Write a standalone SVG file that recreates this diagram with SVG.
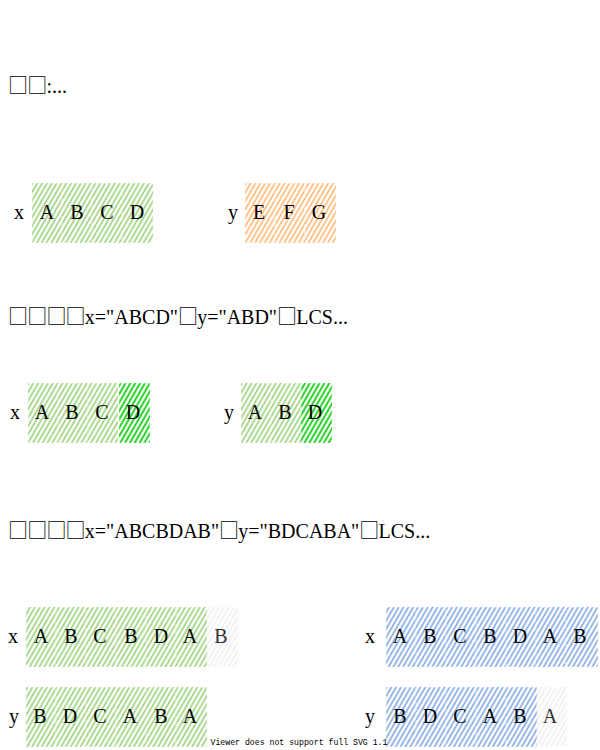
<svg xmlns="http://www.w3.org/2000/svg" width="600" height="750" viewBox="0 0 600 750">
<defs>
<pattern id="hg" patternUnits="userSpaceOnUse" width="4.2" height="10" patternTransform="rotate(30)"><line x1="2.1" y1="0" x2="2.1" y2="10" stroke="#97D077" stroke-width="1.6"/></pattern>
<pattern id="hd" patternUnits="userSpaceOnUse" width="4.2" height="10" patternTransform="rotate(30)"><line x1="2.1" y1="0" x2="2.1" y2="10" stroke="#00CC00" stroke-width="1.7"/></pattern>
<pattern id="ho" patternUnits="userSpaceOnUse" width="4.2" height="10" patternTransform="rotate(30)"><line x1="2.1" y1="0" x2="2.1" y2="10" stroke="#FFB570" stroke-width="1.6"/></pattern>
<pattern id="hb" patternUnits="userSpaceOnUse" width="4.2" height="10" patternTransform="rotate(30)"><line x1="2.1" y1="0" x2="2.1" y2="10" stroke="#7EA6E0" stroke-width="1.6"/></pattern>
<pattern id="hx" patternUnits="userSpaceOnUse" width="4.2" height="10" patternTransform="rotate(30)"><line x1="2.1" y1="0" x2="2.1" y2="10" stroke="#EEEEEE" stroke-width="1.6"/></pattern>
</defs>
<style>
text{font-family:"Liberation Serif","Noto Sans CJK SC",serif;font-size:20px;fill:#000}
.c{text-anchor:middle}
.t{font-family:"Noto Sans CJK SC",sans-serif;letter-spacing:-0.8px}
.cell{stroke:#ffffff;stroke-opacity:0.6;stroke-width:1;stroke-dasharray:3 3}
.g{fill:url(#hg)}.d{fill:url(#hd)}.o{fill:url(#ho)}.b{fill:url(#hb)}.x{fill:url(#hx)}
.grey{fill:#333}
.note{font-family:"Liberation Mono",monospace;font-size:8.2px;text-anchor:middle}
</style>
<g id="title1"><text x="8" y="93"><tspan class="t">□□</tspan>:...</text></g>
<g id="row1x">
<text class="c" x="19" y="219">x</text>
<rect class="cell g" x="32" y="183" width="30" height="60"/><rect class="cell g" x="62" y="183" width="30" height="60"/><rect class="cell g" x="92" y="183" width="30" height="60"/><rect class="cell g" x="122" y="183" width="31" height="60"/>
<text class="c" x="47" y="219">A</text><text class="c" x="77" y="219">B</text><text class="c" x="107" y="219">C</text><text class="c" x="137" y="219">D</text>
</g>
<g id="row1y">
<text class="c" x="233" y="219">y</text>
<rect class="cell o" x="245" y="183" width="30" height="60"/><rect class="cell o" x="275" y="183" width="30" height="60"/><rect class="cell o" x="305" y="183" width="31" height="60"/>
<text class="c" x="259" y="219">E</text><text class="c" x="289" y="219">F</text><text class="c" x="319" y="219">G</text>
</g>
<g id="title2"><text x="8" y="324"><tspan class="t">□□□□</tspan>x="ABCD"<tspan class="t">□</tspan>y="ABD"<tspan class="t">□</tspan>LCS...</text></g>
<g id="row2x">
<text class="c" x="15" y="419">x</text>
<rect class="cell g" x="28" y="383" width="30" height="60"/><rect class="cell g" x="58" y="383" width="30" height="60"/><rect class="cell g" x="88" y="383" width="30" height="60"/><rect class="cell d" x="119" y="383" width="31" height="60"/>
<text class="c" x="42" y="419">A</text><text class="c" x="72" y="419">B</text><text class="c" x="102" y="419">C</text><text class="c" x="133" y="419">D</text>
</g>
<g id="row2y">
<text class="c" x="229" y="419">y</text>
<rect class="cell g" x="241" y="383" width="30" height="60"/><rect class="cell g" x="271" y="383" width="30" height="60"/><rect class="cell d" x="301" y="383" width="31" height="60"/>
<text class="c" x="255" y="419">A</text><text class="c" x="285" y="419">B</text><text class="c" x="315" y="419">D</text>
</g>
<g id="title3"><text x="8" y="538"><tspan class="t">□□□□</tspan>x="ABCBDAB"<tspan class="t">□</tspan>y="BDCABA"<tspan class="t">□</tspan>LCS...</text></g>
<g id="row3x">
<text class="c" x="13" y="643">x</text>
<rect class="cell g" x="26" y="607" width="30" height="60"/><rect class="cell g" x="56" y="607" width="30" height="60"/><rect class="cell g" x="86" y="607" width="30" height="60"/><rect class="cell g" x="116" y="607" width="30" height="60"/><rect class="cell g" x="146" y="607" width="30" height="60"/><rect class="cell g" x="176" y="607" width="31" height="60"/><rect class="cell x" x="207" y="607" width="31" height="60"/>
<text class="c" x="41" y="643">A</text><text class="c" x="71" y="643">B</text><text class="c" x="100" y="643">C</text><text class="c" x="131" y="643">B</text><text class="c" x="161" y="643">D</text><text class="c" x="190" y="643">A</text><text class="c grey" x="221" y="643">B</text>
</g>
<g id="row3x2">
<text class="c" x="370" y="643">x</text>
<rect class="cell b" x="386" y="607" width="30" height="60"/><rect class="cell b" x="416" y="607" width="30" height="60"/><rect class="cell b" x="446" y="607" width="30" height="60"/><rect class="cell b" x="476" y="607" width="30" height="60"/><rect class="cell b" x="506" y="607" width="30" height="60"/><rect class="cell b" x="536" y="607" width="30" height="60"/><rect class="cell b" x="566" y="607" width="32" height="60"/>
<text class="c" x="400" y="643">A</text><text class="c" x="430" y="643">B</text><text class="c" x="460" y="643">C</text><text class="c" x="490" y="643">B</text><text class="c" x="520" y="643">D</text><text class="c" x="550" y="643">A</text><text class="c" x="580" y="643">B</text>
</g>
<g id="row4y">
<text class="c" x="14" y="723">y</text>
<rect class="cell g" x="26" y="687" width="30" height="60"/><rect class="cell g" x="56" y="687" width="30" height="60"/><rect class="cell g" x="86" y="687" width="30" height="60"/><rect class="cell g" x="116" y="687" width="30" height="60"/><rect class="cell g" x="146" y="687" width="30" height="60"/><rect class="cell g" x="176" y="687" width="31" height="60"/>
<text class="c" x="40" y="723">B</text><text class="c" x="70" y="723">D</text><text class="c" x="100" y="723">C</text><text class="c" x="130" y="723">A</text><text class="c" x="161" y="723">B</text><text class="c" x="190" y="723">A</text>
</g>
<g id="row4y2">
<text class="c" x="370" y="723">y</text>
<rect class="cell b" x="386" y="687" width="30" height="60"/><rect class="cell b" x="416" y="687" width="30" height="60"/><rect class="cell b" x="446" y="687" width="30" height="60"/><rect class="cell b" x="476" y="687" width="30" height="60"/><rect class="cell b" x="506" y="687" width="31" height="60"/><rect class="cell x" x="537" y="687" width="30" height="60"/>
<text class="c" x="400" y="723">B</text><text class="c" x="430" y="723">D</text><text class="c" x="460" y="723">C</text><text class="c" x="490" y="723">A</text><text class="c" x="520" y="723">B</text><text class="c grey" x="550" y="723">A</text>
</g>
<g id="connectors"/>
<g id="notice"><text class="note" x="299" y="745">Viewer does not support full SVG 1.1</text></g>
</svg>
